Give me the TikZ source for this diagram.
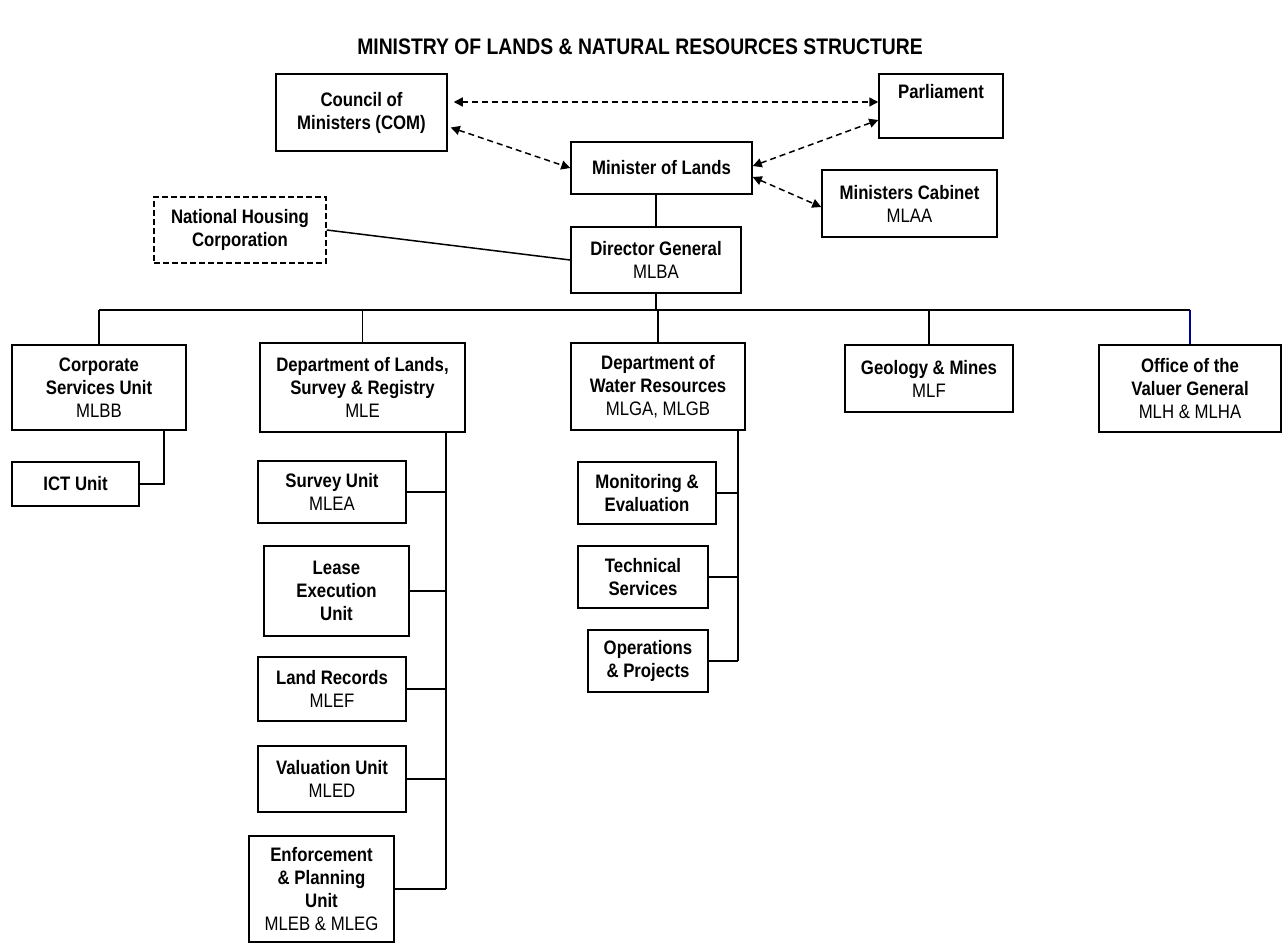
\documentclass[tikz,border=0pt]{standalone}
\usepackage{fontspec}
\setmainfont{Liberation Sans}[FakeStretch=0.86]
\usepackage{tikz}
\usetikzlibrary{arrows.meta}
\newcommand*{\unitcode}[1]{{\mdseries #1}}

\begin{document}
\begin{tikzpicture}[x=1pt, y=-1pt,
    twoway/.style={line width=1.5pt, dash pattern=on 6pt off 4pt,
      {Triangle[length=9pt,width=9pt]}-{Triangle[length=9pt,width=9pt]}}]
      \useasboundingbox (0,0) rectangle (1288,944);

      \node (title) at (640, 47)
        {\fontsize{22.5}{26}\selectfont\bfseries MINISTRY OF LANDS \& NATURAL RESOURCES STRUCTURE};

      {\tikzstyle{every node}=[draw, line width=1.5pt, align=center, inner sep=0pt,
          font=\fontsize{19.5}{23}\selectfont\bfseries]
        \node [minimum width=171, minimum height=77] (com) at (361.5, 112.5) {Council of\\Ministers (COM)};
        \node [minimum width=124, minimum height=64] (parl) at (941, 106) {Parliament\\\strut};
        \node [minimum width=181, minimum height=52] (min) at (661.5, 168) {Minister of Lands};
        \node [minimum width=175, minimum height=67] (cab) at (909.5, 203.5) {Ministers Cabinet\\\unitcode{MLAA}};
        \node [dash pattern=on 6pt off 3pt, minimum width=172, minimum height=66] (nhc) at (240, 230) {National Housing\\Corporation};
        \node [minimum width=170, minimum height=66] (dg) at (656, 260) {Director General\\\unitcode{MLBA}};

        % departments
        \node [minimum width=174, minimum height=85] (csu) at (99, 387.5) {Corporate\\Services Unit\\\unitcode{MLBB}};
        \node [minimum width=205, minimum height=89] (dls) at (362.5, 387.5) {Department of Lands,\\Survey \& Registry\\\unitcode{MLE}};
        \node [minimum width=174, minimum height=87] (dwr) at (658, 386.5) {Department of\\Water Resources\\\unitcode{MLGA, MLGB}};
        \node [minimum width=168, minimum height=67] (gm) at (929, 378.5) {Geology \& Mines\\\unitcode{MLF}};
        \node [minimum width=182, minimum height=87] (ovg) at (1190, 388.5) {Office of the\\Valuer General\\\unitcode{MLH \& MLHA}};

        % units
        \node [minimum width=127, minimum height=44] (ict) at (75.5, 484) {ICT Unit};
        \node [minimum width=148, minimum height=62] (su) at (332, 492) {Survey Unit\\\unitcode{MLEA}};
        \node [minimum width=145, minimum height=90] (leu) at (336.5, 591) {Lease\\Execution\\Unit};
        \node [minimum width=148, minimum height=64] (lr) at (332, 689) {Land Records\\\unitcode{MLEF}};
        \node [minimum width=148, minimum height=66] (vu) at (332, 779) {Valuation Unit\\\unitcode{MLED}};
        \node [minimum width=145, minimum height=106] (epu) at (321.5, 889) {Enforcement\\\& Planning\\Unit\\\unitcode{MLEB \& MLEG}};
        \node [minimum width=138, minimum height=62] (me) at (647, 493) {Monitoring \&\\Evaluation};
        \node [minimum width=130, minimum height=62] (ts) at (643, 577) {Technical\\Services};
        \node [minimum width=120, minimum height=62] (op) at (648, 661) {Operations\\\& Projects};
      }

      \draw [twoway] ([xshift=6pt, yshift=10.5pt]com.east) -- ([yshift=10.5pt]com.east -| parl.west);
      \draw [twoway] ([xshift=3pt, yshift=-15pt]com.east) -- (min.west);
      \draw [twoway] ([yshift=2pt]min.east) -- ([yshift=-14pt]parl.west);
      \draw [twoway] ([yshift=-9pt]min.east) -- ([yshift=-3.5pt]cab.west);

      \begin{scope}[line width=1.5pt]
        \draw (dg.north) -- (dg.north |- min.south);
        \draw (nhc.east) -- (dg.west);

        \coordinate (bus) at (0, 310);
        \draw (csu.north |- bus) -- (ovg.north |- bus);
        \foreach \u in {csu, dls, dwr, gm}
          \draw (\u.north) -- (\u.north |- bus);
        \draw [blue!60!black] (ovg.north) -- (ovg.north |- bus);
        \draw (dg.south) -- (dg.south |- bus);

        \draw (ict.east) -| ([xshift=-23pt]csu.south east);

        \coordinate (lt) at ([xshift=-20pt]dls.south east);
        \draw (lt) -- (lt |- epu.east);
        \foreach \u in {su, leu, lr, vu, epu}
          \draw (\u.east) -- (\u.east -| lt);

        \coordinate (wt) at ([xshift=-8pt]dwr.south east);
        \draw (wt) -- (wt |- op.east);
        \foreach \u in {me, ts, op}
          \draw (\u.east) -- (\u.east -| wt);
      \end{scope}
    \end{tikzpicture}
\end{document}
